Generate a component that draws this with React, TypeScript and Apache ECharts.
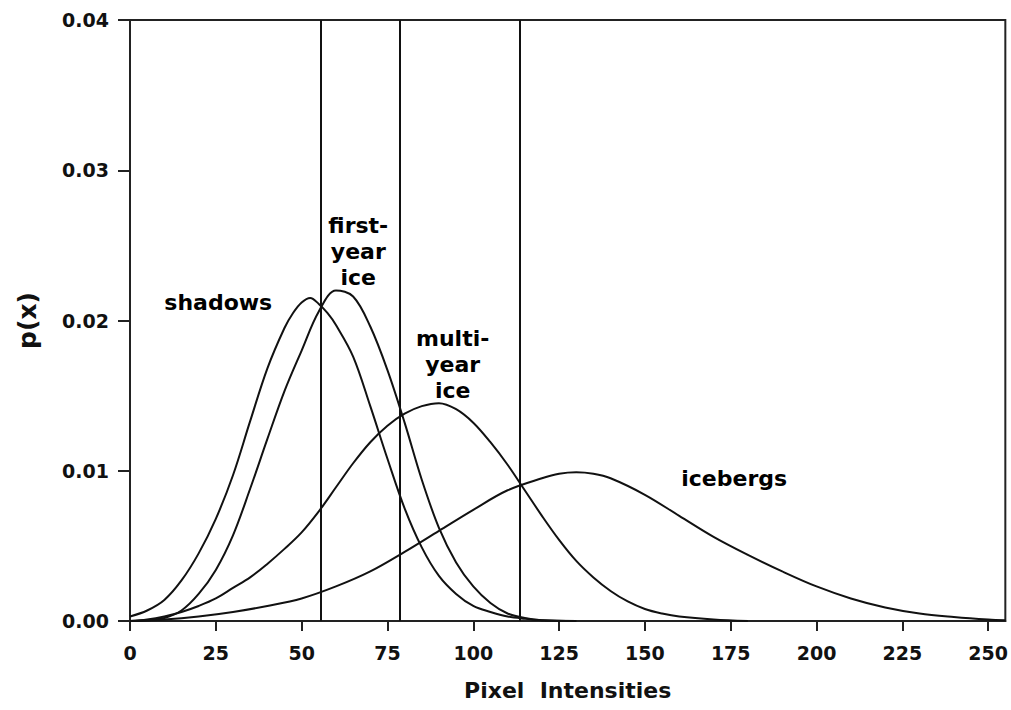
import React, { useEffect, useRef } from "react";
import * as echarts from "echarts";

const xTicks = [0, 25, 50, 75, 100, 125, 150, 175, 200, 225, 250];
const yTicks = [0, 0.01, 0.02, 0.03, 0.04];
const thresholds = [55.5, 78.5, 113.5];

const shadowsX = [0, 5, 10, 15, 20, 25, 30, 35, 40, 45, 47.5, 50, 52.5, 55, 57.5, 60, 65, 70, 75, 80, 85, 90, 95, 100, 105, 110, 115, 120, 130];
const shadowsY = [0.0003, 0.0007, 0.0014, 0.0027, 0.0045, 0.0068, 0.0097, 0.0133, 0.0168, 0.0195, 0.0205, 0.0212, 0.0215, 0.0211, 0.0205, 0.0197, 0.0176, 0.0143, 0.0108, 0.0075, 0.0049, 0.003, 0.0018, 0.001, 0.0006, 0.0003, 0.00015, 0.00005, 0];

const firstYearX = [0, 5, 10, 15, 20, 25, 30, 35, 40, 45, 50, 55, 60, 65, 70, 75, 80, 85, 90, 95, 100, 105, 110, 115, 120, 130];
const firstYearY = [0, 0.00005, 0.0002, 0.0007, 0.0018, 0.0034, 0.0057, 0.0088, 0.0121, 0.0153, 0.018, 0.0206, 0.022, 0.0216, 0.0196, 0.0167, 0.0132, 0.0094, 0.0062, 0.0039, 0.0023, 0.0012, 0.0005, 0.0002, 0.00005, 0];

const multiYearX = [0, 5, 10, 15, 20, 25, 30, 35, 40, 45, 50, 55, 60, 65, 70, 75, 80, 85, 90, 95, 100, 105, 110, 115, 120, 125, 130, 135, 140, 145, 150, 155, 160, 170, 180];
const multiYearY = [0, 0.0001, 0.0003, 0.0006, 0.001, 0.0015, 0.0022, 0.0029, 0.0038, 0.0048, 0.0059, 0.0073, 0.0089, 0.0105, 0.0119, 0.013, 0.0138, 0.0143, 0.0145, 0.0141, 0.0132, 0.0119, 0.0104, 0.0087, 0.007, 0.0054, 0.004, 0.0029, 0.002, 0.0013, 0.0008, 0.0005, 0.0003, 0.0001, 0];

const icebergsX = [0, 10, 20, 30, 40, 50, 60, 70, 80, 90, 100, 110, 120, 125, 130, 135, 140, 150, 160, 170, 180, 190, 200, 210, 220, 230, 240, 250, 255];
const icebergsY = [0, 0.0001, 0.0003, 0.0006, 0.001, 0.0015, 0.0023, 0.0033, 0.0046, 0.006, 0.0074, 0.0087, 0.0095, 0.0098, 0.0099, 0.0098, 0.0095, 0.0084, 0.007, 0.0056, 0.0044, 0.0033, 0.0023, 0.0015, 0.0009, 0.0005, 0.00027, 0.0001, 0.00005];

const labels = [
  { text: "shadows", x: 25.7, y: 0.0212 },
  { text: "first-\nyear\nice", x: 66.5, y: 0.0246 },
  { text: "multi-\nyear\nice", x: 94, y: 0.0171 },
  { text: "icebergs", x: 176, y: 0.0095 },
];

const FONT = "DejaVu Sans";

function zip(xs: number[], ys: number[]) {
  return xs.map((x, i) => [x, ys[i]]);
}

export default function App() {
  const ref = useRef<HTMLDivElement>(null);
  useEffect(() => {
    if (!ref.current) return;
    const chart = echarts.init(ref.current, undefined, { renderer: "svg" });
    const lineStyle = { color: "#111", width: 2 };
    const mk = (name: string, xs: number[], ys: number[]) => ({
      name,
      type: "line",
      data: zip(xs, ys),
      smooth: 0.35,
      showSymbol: false,
      symbol: "none",
      lineStyle,
      z: 3,
    });
    chart.setOption({
      animation: false,
      backgroundColor: "#fff",
      grid: {
        left: 130,
        top: 20,
        right: 5,
        bottom: 89,
        show: true,
        borderColor: "#222",
        borderWidth: 2,
      },
      xAxis: {
        type: "value",
        min: 0,
        max: 255,
        interval: 25,
        splitLine: { show: false },
        axisLine: { lineStyle: { color: "#222", width: 2 } },
        axisTick: { inside: false, length: 10, lineStyle: { color: "#222", width: 2 } },
        axisLabel: {
          margin: 22,
          color: "#111",
          fontFamily: FONT,
          fontWeight: "bold",
          fontSize: 19,
          showMaxLabel: false,
          formatter: (v: number) => (xTicks.includes(v) ? String(v) : ""),
        },
        name: "Pixel  Intensities",
        nameLocation: "middle",
        nameGap: 58,
        nameTextStyle: { color: "#111", fontFamily: FONT, fontWeight: "bold", fontSize: 22 },
      },
      yAxis: {
        type: "value",
        min: 0,
        max: 0.04,
        interval: 0.01,
        splitLine: { show: false },
        axisLine: { lineStyle: { color: "#222", width: 2 } },
        axisTick: { inside: false, length: 12, lineStyle: { color: "#222", width: 2 } },
        axisLabel: {
          margin: 21,
          color: "#111",
          fontFamily: FONT,
          fontWeight: "bold",
          fontSize: 19,
          formatter: (v: number) => (yTicks.some((t) => Math.abs(t - v) < 1e-9) ? v.toFixed(2) : ""),
        },
        name: "p(x)",
        nameLocation: "middle",
        nameGap: 90,
        nameRotate: 90,
        nameTextStyle: { color: "#111", fontFamily: FONT, fontWeight: "bold", fontSize: 25 },
      },
      series: [
        {
          ...mk("shadows", shadowsX, shadowsY),
          markLine: {
            silent: true,
            symbol: "none",
            label: { show: false },
            lineStyle: { color: "#111", width: 2, type: "solid" },
            data: thresholds.map((t) => ({ xAxis: t })),
          },
        },
        mk("first-year ice", firstYearX, firstYearY),
        mk("multi-year ice", multiYearX, multiYearY),
        mk("icebergs", icebergsX, icebergsY),
        {
          type: "scatter",
          symbolSize: 0,
          silent: true,
          itemStyle: { color: "#111", opacity: 1 },
          data: labels.map((l) => ({
            value: [l.x, l.y],
            label: {
              show: true,
              position: "inside",
              formatter: l.text,
              align: "center",
              verticalAlign: "middle",
              color: "#000",
              opacity: 1,
              fontFamily: FONT,
              fontWeight: "bold",
              fontSize: 22,
              lineHeight: 26,
            },
          })),
        },
      ],
    });
    return () => chart.dispose();
  }, []);
  return (
    <div
      ref={ref}
      style={{ width: 1011, height: 710, position: "absolute", left: 0, top: 0 }}
    />
  );
}
